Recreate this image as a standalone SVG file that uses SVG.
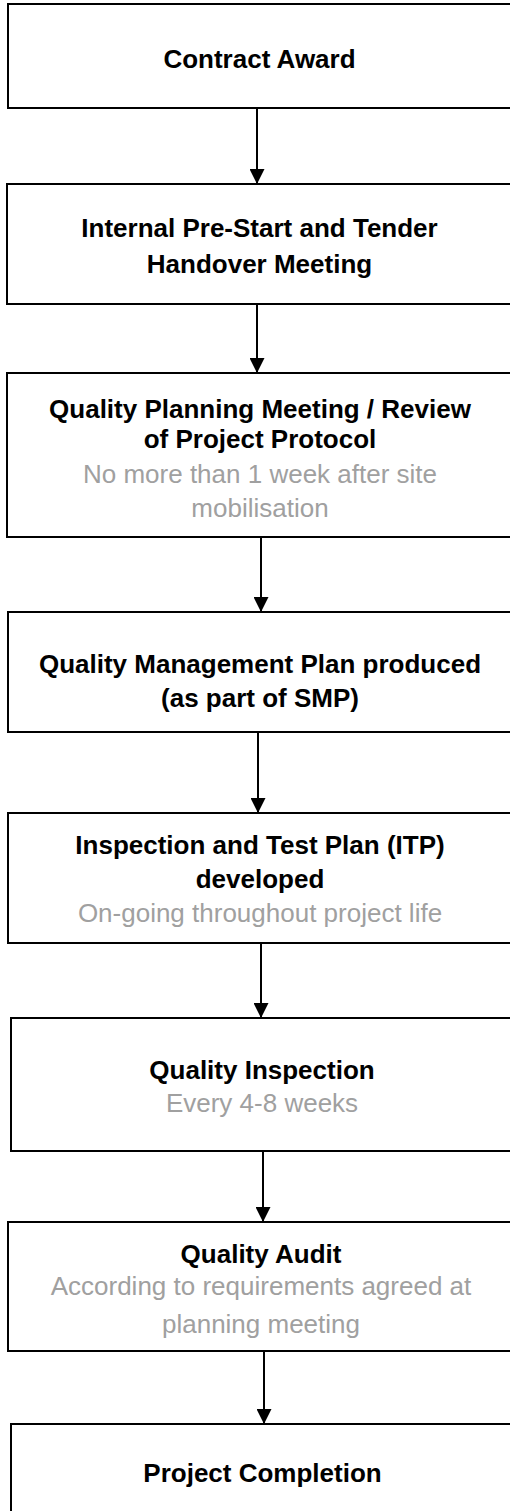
<svg xmlns="http://www.w3.org/2000/svg" width="510" height="1511" viewBox="0 0 510 1511">
<style>
.box{fill:#fff;stroke:#000;stroke-width:2}
.t{font-family:"Liberation Sans",Arial,sans-serif;font-size:26px;text-anchor:middle}
.b{font-weight:bold;fill:#000}
.g{fill:#a0a0a0}
.c{stroke:#000;stroke-width:2;fill:none}
</style>
<defs>
<marker id="ah" markerUnits="userSpaceOnUse" markerWidth="15" markerHeight="15" refX="15" refY="7.5" orient="auto" viewBox="0 0 15 15">
<path d="M0,0 L15,7.5 L0,15 z" fill="#000"/>
</marker>
</defs>
<rect width="510" height="1511" fill="#fff"/>
<g id="connectors">
<line class="c" x1="257" y1="109" x2="257" y2="184" marker-end="url(#ah)"/>
<line class="c" x1="257" y1="305" x2="257" y2="373" marker-end="url(#ah)"/>
<line class="c" x1="261" y1="538" x2="261" y2="612" marker-end="url(#ah)"/>
<line class="c" x1="258" y1="733" x2="258" y2="813" marker-end="url(#ah)"/>
<line class="c" x1="261" y1="944" x2="261" y2="1018" marker-end="url(#ah)"/>
<line class="c" x1="263" y1="1152" x2="263" y2="1222" marker-end="url(#ah)"/>
<line class="c" x1="264" y1="1352" x2="264" y2="1424" marker-end="url(#ah)"/>
</g>
<g id="n1">
<rect class="box" x="8" y="4" width="510" height="104"/>
<text class="t b" x="259.5" y="68">Contract Award</text>
</g>
<g id="n2">
<rect class="box" x="7" y="184" width="510" height="120"/>
<text class="t b" x="259.5" y="237">Internal Pre-Start and Tender</text>
<text class="t b" x="259.5" y="273">Handover Meeting</text>
</g>
<g id="n3">
<rect class="box" x="7" y="373" width="510" height="164"/>
<text class="t b" x="260" y="418">Quality Planning Meeting / Review</text>
<text class="t b" x="260" y="448">of Project Protocol</text>
<text class="t g" x="260" y="483">No more than 1 week after site</text>
<text class="t g" x="260" y="517">mobilisation</text>
</g>
<g id="n4">
<rect class="box" x="8" y="612" width="510" height="120"/>
<text class="t b" x="260" y="673">Quality Management Plan produced</text>
<text class="t b" x="260" y="707">(as part of SMP)</text>
</g>
<g id="n5">
<rect class="box" x="8" y="813" width="510" height="130"/>
<text class="t b" x="260" y="854">Inspection and Test Plan (ITP)</text>
<text class="t b" x="260" y="888">developed</text>
<text class="t g" x="260" y="922">On-going throughout project life</text>
</g>
<g id="n6">
<rect class="box" x="11" y="1018" width="510" height="133"/>
<text class="t b" x="262" y="1079">Quality Inspection</text>
<text class="t g" x="262" y="1112">Every 4-8 weeks</text>
</g>
<g id="n7">
<rect class="box" x="8" y="1222" width="510" height="129"/>
<text class="t b" x="261" y="1263">Quality Audit</text>
<text class="t g" x="261" y="1295">According to requirements agreed at</text>
<text class="t g" x="261" y="1333">planning meeting</text>
</g>
<g id="n8">
<rect class="box" x="11" y="1424" width="510" height="110"/>
<text class="t b" x="262.5" y="1482">Project Completion</text>
</g>
</svg>
